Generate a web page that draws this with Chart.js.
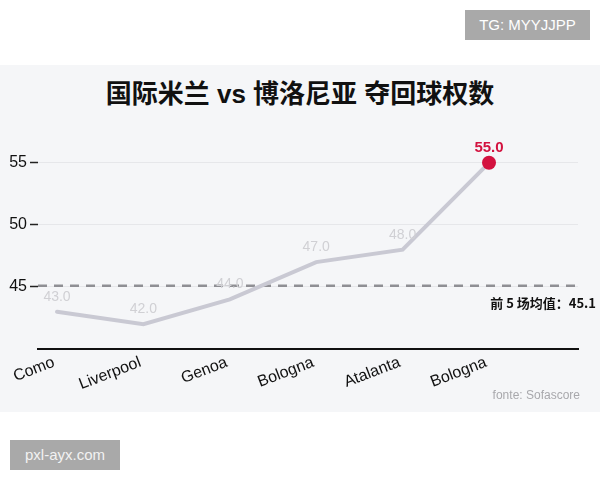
<!DOCTYPE html>
<html lang="zh-CN">
<head>
    <meta charset="UTF-8">
    <title>国际米兰 vs 博洛尼亚 夺回球权数</title>
    <script src="https://cdn.jsdelivr.net/npm/chart.js"></script>
    <style>
        body { margin: 0; width: 600px; height: 480px; background: #ffffff; position: relative; overflow: hidden;
               font-family: 'Liberation Sans', 'Noto Sans CJK SC', sans-serif; }
        .panel { position: absolute; left: 0; top: 65px; width: 600px; height: 347px; background: #f5f6f8; }
        .title { position: absolute; left: 0; top: 76px; width: 600px; text-align: center; font-size: 26px; line-height: 36px;
                 font-weight: bold; color: #111; font-family: 'Liberation Sans', 'Noto Sans CJK SC', sans-serif; }
        .tag { position: absolute; background: #a9a9a9; color: #fff; font-size: 15px; text-align: center; }
        #chart { position: absolute; left: 0; top: 0; }
    </style>
</head>
<body>
    <div class="panel"></div>
    <div class="title">国际米兰 vs 博洛尼亚 夺回球权数</div>
    <div class="tag" style="left:465px; top:10px; width:125px; height:30px; line-height:30px;">TG: MYYJJPP</div>
    <div class="tag" style="left:10px; top:440px; width:110px; height:30px; line-height:30px; color:#f2f2f2;">pxl-ayx.com</div>
    <canvas id="chart" width="600" height="480"></canvas>

    <script>
        // 数据
        const opponents = ['Como', 'Liverpool', 'Genoa', 'Bologna', 'Atalanta', 'Bologna'];
        const recoveries = [43.0, 42.0, 44.0, 47.0, 48.0, 55.0];
        const yTicks = [45, 50, 55];
        const avgValue = 45.1;
        const avgLabel = '前 5 场均值：45.1';
        const sourceLabel = 'fonte: Sofascore';

        const lastIdx = recoveries.length - 1;
        const highlight = '#d3123f';

        // 均值虚线 + 标签
        const avgLinePlugin = {
            id: 'avgLine',
            beforeDatasetsDraw(chart) {
                const { ctx, chartArea, scales } = chart;
                const y = scales.y.getPixelForValue(avgValue);
                ctx.save();
                ctx.strokeStyle = '#8f8f94';
                ctx.lineWidth = 2.5;
                ctx.setLineDash([9, 7]);
                ctx.beginPath();
                ctx.moveTo(chartArea.left, y);
                ctx.lineTo(chartArea.right, y);
                ctx.stroke();
                ctx.restore();
            },
            afterDraw(chart) {
                const { ctx, scales } = chart;
                const y = scales.y.getPixelForValue(avgValue);
                ctx.save();
                ctx.fillStyle = '#111';
                ctx.font = 'bold 13px "Noto Sans CJK SC", sans-serif';
                ctx.textAlign = 'right';
                ctx.textBaseline = 'middle';
                ctx.fillText(avgLabel, 596, y + 17);
                ctx.fillStyle = '#a8a8ac';
                ctx.font = '12px "Liberation Sans", sans-serif';
                ctx.fillText(sourceLabel, 580, 396);
                ctx.restore();
            }
        };

        // 数值标签
        const valueLabelPlugin = {
            id: 'valueLabels',
            afterDatasetsDraw(chart) {
                const { ctx } = chart;
                const meta = chart.getDatasetMeta(0);
                ctx.save();
                ctx.textAlign = 'center';
                ctx.textBaseline = 'middle';
                meta.data.forEach((pt, i) => {
                    if (i === lastIdx) {
                        ctx.fillStyle = highlight;
                        ctx.font = 'bold 15px "Liberation Sans", sans-serif';
                    } else {
                        ctx.fillStyle = '#d0d0d4';
                        ctx.font = '14px "Liberation Sans", sans-serif';
                    }
                    ctx.fillText(recoveries[i].toFixed(1), pt.x, pt.y - 15);
                });
                ctx.restore();
            }
        };

        new Chart(document.getElementById('chart'), {
            type: 'line',
            data: {
                datasets: [{
                    data: recoveries.map((v, i) => ({ x: i, y: v })),
                    borderColor: '#c9c9d3',
                    borderWidth: 4,
                    borderCapStyle: 'round',
                    tension: 0,
                    pointRadius: recoveries.map((v, i) => i === lastIdx ? 7 : 0),
                    pointBackgroundColor: highlight,
                    pointBorderWidth: 0
                }]
            },
            options: {
                responsive: false,
                animation: false,
                layout: { padding: { top: 138, right: 22, left: 0, bottom: 0 } },
                plugins: { legend: { display: false }, tooltip: { enabled: false } },
                scales: {
                    x: {
                        type: 'linear',
                        min: -0.22,
                        max: 6.03,
                        afterBuildTicks: (s) => { s.ticks = opponents.map((c, i) => ({ value: i })); },
                        afterFit: (s) => { s.height = 131; },
                        grid: { display: true, color: 'rgba(0,0,0,0)', drawTicks: false },
                        border: { display: true, color: '#111', width: 2 },
                        ticks: {
                            callback: (v) => opponents[v],
                            minRotation: 21,
                            maxRotation: 21,
                            padding: 4,
                            labelOffset: -3,
                            color: '#111',
                            font: { size: 16, family: 'Liberation Sans' }
                        }
                    },
                    y: {
                        min: 40,
                        max: 57,
                        afterBuildTicks: (s) => { s.ticks = yTicks.map(v => ({ value: v })); },
                        afterFit: (s) => { s.width = 38; },
                        grid: { color: '#e6e7ea', tickColor: '#222', tickLength: 8, tickWidth: 1.5 },
                        border: { display: false },
                        ticks: {
                            padding: 3,
                            color: '#111',
                            font: { size: 16, family: 'Liberation Sans' }
                        }
                    }
                }
            },
            plugins: [avgLinePlugin, valueLabelPlugin]
        });
    </script>
</body>
</html>
